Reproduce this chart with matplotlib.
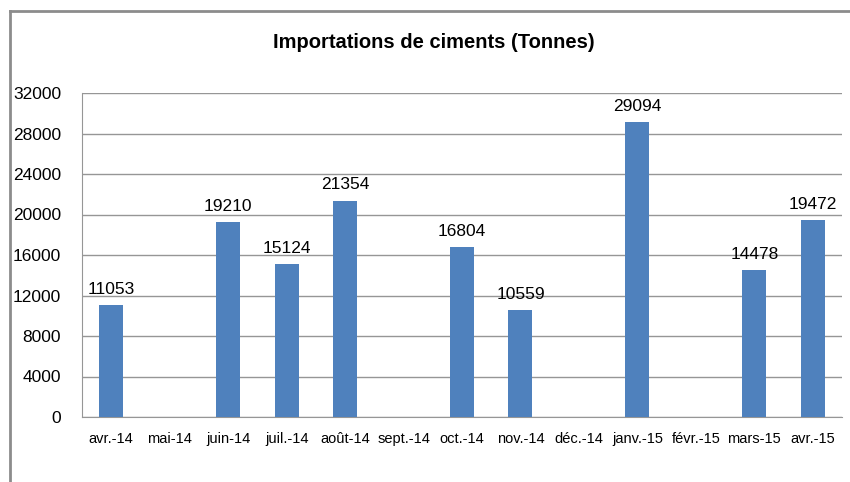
import matplotlib
matplotlib.use("Agg")
import matplotlib.pyplot as plt
from matplotlib.lines import Line2D

categories = ["avr.-14", "mai-14", "juin-14", "juil.-14", "août-14", "sept.-14", "oct.-14",
              "nov.-14", "déc.-14", "janv.-15", "févr.-15", "mars-15", "avr.-15"]
values = [11053, 0, 19210, 15124, 21354, 0, 16804, 10559, 0, 29094, 0, 14478, 19472]
yticks = list(range(0, 32001, 4000))

plt.rcParams['font.family'] = ['Liberation Sans', 'DejaVu Sans']

fig = plt.figure(figsize=(8.5, 4.82), dpi=100)
W, H = 850, 482
ax = fig.add_axes([82 / W, 1 - 417 / H, (842 - 82) / W, (417 - 93) / H])

x = list(range(len(categories)))
bars = ax.bar(x, values, width=0.41, color="#4F81BD", zorder=3)
for xi, v in zip(x, values):
    if v > 0:
        ax.annotate(str(v), (xi, v), xytext=(0, 6), textcoords="offset points",
                    ha="center", va="bottom", fontsize=12.5, color="#000000")

ax.set_xlim(-0.5, len(categories) - 0.5)
ax.set_ylim(0, 32000)
ax.set_yticks(yticks)
ax.set_yticklabels([str(t) for t in yticks], fontsize=12.5)
ax.set_xticks(x)
ax.set_xticklabels(categories, fontsize=10.5)
ax.tick_params(axis='both', length=0)
ax.tick_params(axis='y', pad=15)
ax.tick_params(axis='x', pad=11)
ax.yaxis.grid(True, color="#969696", linewidth=1, zorder=0)
for s in ["top", "right"]:
    ax.spines[s].set_visible(False)
ax.spines["left"].set_color("#969696")
ax.spines["bottom"].set_color("#969696")

fig.text(434 / W, 1 - 43 / H, "Importations de ciments (Tonnes)", ha="center", va="center",
         fontsize=14.5, fontweight="bold")

# outer chart border (left and top)
fig.add_artist(Line2D([9.5 / W, 9.5 / W], [0, 1 - 11 / H], transform=fig.transFigure,
                      color="#8C8C8C", linewidth=2))
fig.add_artist(Line2D([9.5 / W, 1], [1 - 11 / H, 1 - 11 / H], transform=fig.transFigure,
                      color="#8C8C8C", linewidth=2))

fig.savefig("out.png", dpi=100)
